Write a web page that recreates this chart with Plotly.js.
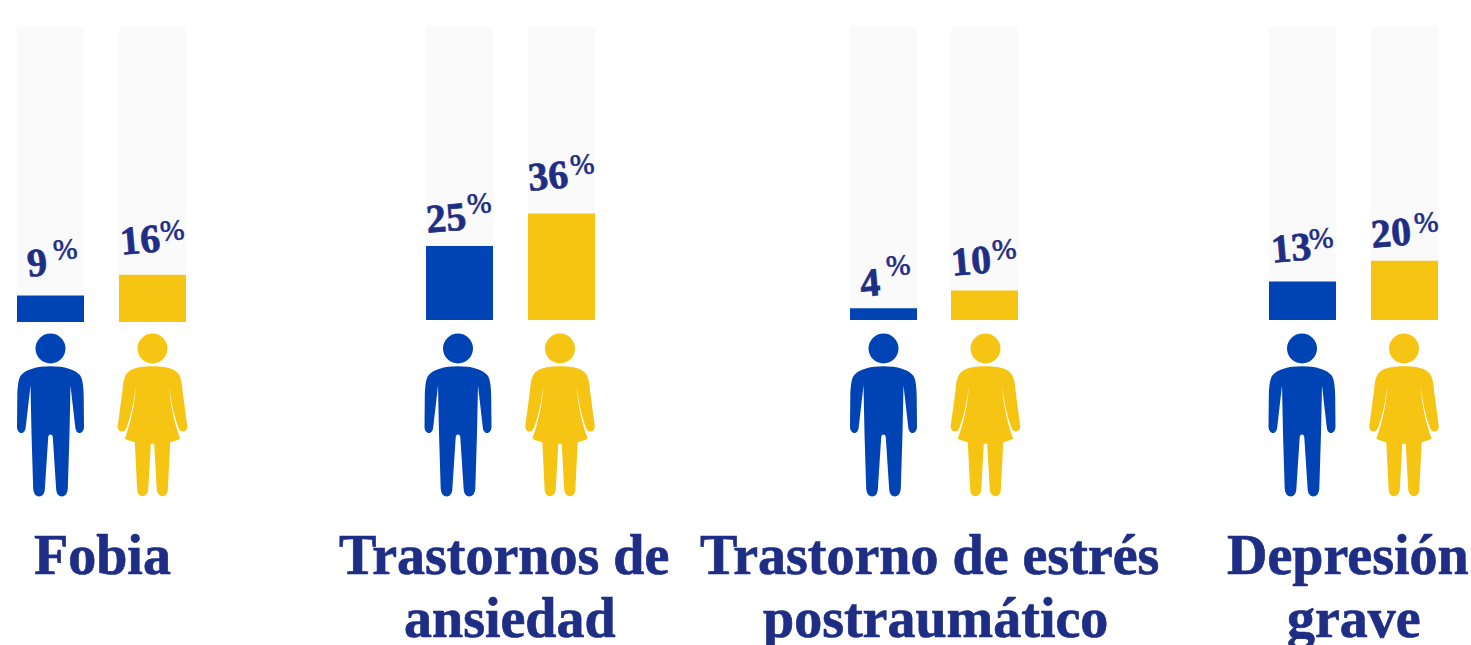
<!DOCTYPE html>
<html><head><meta charset="utf-8">
<script src="https://cdn.plot.ly/plotly-3.0.1.min.js"></script>
<style>html,body{margin:0;padding:0;background:#fff;overflow:hidden}#c{width:1471px;height:645px}
.annotation-text{stroke:#1F2E85;stroke-width:.7px}</style>
</head><body><div id="c"></div>
<script>
const categories = [["Fobia"], ["Trastornos de", "ansiedad"], ["Trastorno de estrés", "postraumático"], ["Depresión", "grave"]];
const menValues = [9, 25, 4, 13];
const womenValues = [16, 36, 10, 20];
const trackValue = 99;

const menX = [50.5, 459.5, 883.5, 1302.5];
const womenX = [152.5, 561.5, 984.5, 1404.5];
const menFigureX = [50.5, 458, 883.5, 1302];
const womenFigureX = [152.5, 560, 985.5, 1404];
const catX = [102, 503.5, 929, 1348];
const baseOffset = [-0.7, 0, 0, 0];
// label offsets above each bar top, in pixels
const menNumberLift = [33, 29, 26, 34], womenNumberLift = [35, 38, 30, 28];
const menPctLift = [46, 43, 43, 44], womenPctLift = [45, 49, 41, 39];
const menNumberShift = [-13.5, -13.5, -13.5, -11.5], womenNumberShift = [-12.5, -13.5, -14, -14];
const menPctShift = [14, 19.5, 14, 18], womenPctShift = [19.5, 20.5, 19, 21];
const BLUE = "#0043B5", YELLOW = "#F6C514", NAVY = "#1F2E85", TRACK = "#FAFAFA";
const W = 1471, H = 645, BASE_PX = 320, PX_PER = 2.96, BAR_W = 67;
const SERIF = "Liberation Serif";

function bars(xs, vals, color, name) {
  return {type: "bar", name, x: xs, y: vals, base: baseOffset, width: BAR_W,
          marker: {color, line: {width: 0}}, hoverinfo: "skip", showlegend: false};
}
const traces = [
  {type: "bar", name: "track", x: menX.concat(womenX), y: menX.concat(womenX).map(() => trackValue),
   base: 0, width: BAR_W, marker: {color: TRACK, line: {width: 0}}, hoverinfo: "skip", showlegend: false},
  bars(menX, menValues, BLUE, "Hombres"),
  bars(womenX, womenValues, YELLOW, "Mujeres")
];

// half figure outlines (y measured downward from the head centre), mirrored into a closed path
function figure(start, segs) {
  const P = (x, y) => `${x},${-y}`;
  let d = "M" + P(start[0], start[1]);
  const ends = [start];
  segs.forEach(s => {
    const pts = [];
    for (let i = 0; i < s.length; i += 2) pts.push(P(s[i], s[i + 1]));
    d += (s.length === 2 ? " L" : " C") + pts.join(" ");
    ends.push(s.slice(-2));
  });
  for (let i = segs.length - 1; i >= 0; i--) {
    const s = segs[i], e = ends[i];
    if (s.length === 2) d += " L" + P(-e[0], e[1]);
    else d += " C" + [P(-s[2], s[3]), P(-s[0], s[1]), P(-e[0], e[1])].join(" ");
  }
  return d + " Z";
}
const manPath = figure([0, 17.7], [
  [14, 17.7, 25, 21, 29.7, 27], [32.5, 31, 33, 40, 33.2, 48], [33.5, 78],
  [33.5, 82, 31.5, 84.5, 29, 84.5], [26.5, 84.5, 25, 82, 24.7, 78], [20, 37], [19, 85], [17.3, 140],
  [17, 145, 14.5, 148, 11.3, 148], [8, 148, 6, 145, 5.7, 141], [2.3, 89], [2.2, 87, 1.2, 86, 0, 86]
]);
const womanPath = figure([0, 17.7], [
  [13, 17.7, 24, 20, 27, 27], [29, 31, 29.5, 36, 30, 42], [34.7, 77],
  [35, 81, 33, 83, 30.3, 83], [28, 83, 26.5, 81, 25.5, 78], [21, 66, 18, 50, 16.7, 37],
  [17.5, 55, 22, 75, 27.7, 90.3], [24, 92, 21, 93, 17.7, 93.7], [15.3, 142],
  [15, 145, 13, 147.7, 10, 147.7], [7, 147.7, 5, 145, 4.3, 142], [1.7, 95.3], [0, 95.3]
]);
const HEAD_Y = (H - 348.5) / H;
function person(x, path, color, r) {
  const common = {xref: "x", yref: "paper", xsizemode: "pixel", ysizemode: "pixel",
                  xanchor: x, yanchor: HEAD_Y, fillcolor: color, line: {width: 0}, layer: "above"};
  return [
    Object.assign({type: "circle", x0: -r, x1: r, y0: -r, y1: r}, common),
    Object.assign({type: "path", path}, common)
  ];
}
const shapes = [];
menFigureX.forEach(x => shapes.push(...person(x, manPath, BLUE, 15)));
womenFigureX.forEach(x => shapes.push(...person(x, womanPath, YELLOW, 15)));

function valueLabel(x, v, base, numLift, pctLift, numShift, pctShift) {
  return [{x, y: v + base, xref: "x", yref: "y", xanchor: "center", yanchor: "middle",
           xshift: numShift, yshift: numLift, text: `<b>${v}</b>`, showarrow: false, textangle: -5,
           font: {family: SERIF, size: 40, color: NAVY}},
          {x, y: v + base, xref: "x", yref: "y", xanchor: "center", yanchor: "middle",
           xshift: pctShift, yshift: pctLift, text: "%", showarrow: false, textangle: -5,
           font: {family: SERIF, size: 29, color: NAVY}}];
}
const annotations = [];
menX.forEach((x, i) => annotations.push(...valueLabel(x, menValues[i], baseOffset[i], menNumberLift[i], menPctLift[i], menNumberShift[i], menPctShift[i])));
womenX.forEach((x, i) => annotations.push(...valueLabel(x, womenValues[i], baseOffset[i], womenNumberLift[i], womenPctLift[i], womenNumberShift[i], womenPctShift[i])));
const LINE_TOPS = [522, 585];
const LINE_SHIFT = [0, 6];
categories.forEach((lines, i) => lines.forEach((line, j) => annotations.push({
  x: catX[i], xref: "x", xshift: LINE_SHIFT[j], y: (H - LINE_TOPS[j]) / H, yref: "paper", xanchor: "center", yanchor: "top",
  text: `<b>${line}</b>`, showarrow: false, align: "center",
  font: {family: SERIF, size: 56, color: NAVY}
})));

Plotly.newPlot("c", traces, {
  width: W, height: H, margin: {l: 0, r: 0, t: 0, b: 0}, barmode: "overlay",
  paper_bgcolor: "#fff", plot_bgcolor: "#fff", showlegend: false,
  xaxis: {range: [0, W], visible: false, fixedrange: true},
  yaxis: {range: [-(H - BASE_PX) / PX_PER, BASE_PX / PX_PER], visible: false, fixedrange: true},
  shapes, annotations
}, {displayModeBar: false, staticPlot: true});
</script></body></html>
